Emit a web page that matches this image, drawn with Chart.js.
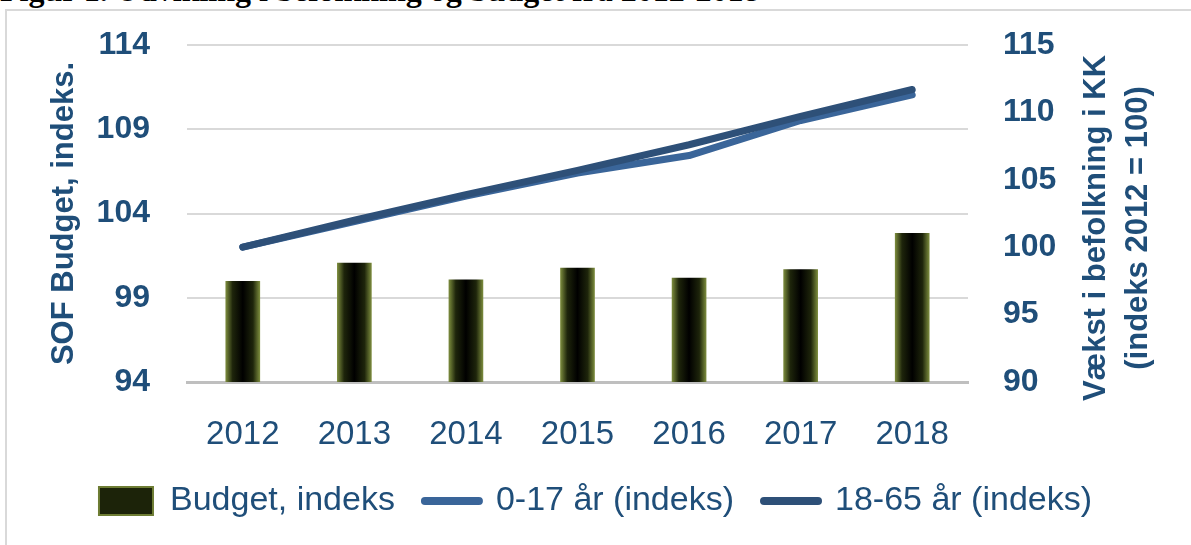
<!DOCTYPE html>
<html>
<head>
<meta charset="utf-8">
<script src="https://cdn.jsdelivr.net/npm/chart.js@4.4.1/dist/chart.umd.min.js"></script>
<style>
  html, body { margin: 0; padding: 0; background: #fff; overflow: hidden; }
  #wrap { position: relative; width: 1191px; height: 545px; overflow: hidden; }
  #title { position: absolute; left: 0; top: -26px; font: bold 32px "Liberation Serif", "Times New Roman", serif; line-height: 33px; white-space: nowrap; color: #000; }
  #frame { position: absolute; left: 5px; top: 9px; width: 1300px; height: 700px; border: 2px solid #d9d9d9; }
  canvas { position: absolute; left: 0; top: 0; }
</style>
</head>
<body>
<div id="wrap">
  <div id="title">Figur 1. Udvikling i befolkning og budget fra 2012-2018</div>
  <div id="frame"></div>
  <canvas id="chart" width="1191" height="545"></canvas>
</div>
<script>
// data
const years = ["2012", "2013", "2014", "2015", "2016", "2017", "2018"];
const budget = [99.98, 101.06, 100.07, 100.76, 100.17, 100.67, 102.82];
const age0to17 = [100.0, 101.9, 103.8, 105.5, 106.8, 109.4, 111.3];
const age18to65 = [100.0, 102.0, 103.9, 105.7, 107.6, 109.7, 111.7];
const leftTicks = [94, 99, 104, 109, 114];
const rightTicks = [90, 95, 100, 105, 110, 115];
const leftTitle = "SOF Budget, indeks.";
const rightTitle = ["Vækst i befolkning i KK", "(indeks 2012 = 100)"];

const textColor = "#1f4e79";
const fontFamily = '"Liberation Sans", Arial, sans-serif';

// dark bar with olive glow at the edges
function barFill(c) {
  const chart = c.chart;
  if (!chart.chartArea || c.dataIndex === undefined) return "#0b0d05";
  const cx = chart.scales.x.getPixelForValue(c.dataIndex);
  const g = chart.ctx.createLinearGradient(cx - 17, 0, cx + 17, 0);
  g.addColorStop(0, "#7a8a3c");
  g.addColorStop(0.2, "#1e250b");
  g.addColorStop(0.5, "#000000");
  g.addColorStop(0.8, "#1e250b");
  g.addColorStop(1, "#7a8a3c");
  return g;
}

// right axis title reads bottom-to-top like the left one
const rightTitlePlugin = {
  id: "rightTitle",
  afterDraw(chart) {
    const ctx = chart.ctx;
    ctx.save();
    ctx.translate(1117, 228);
    ctx.rotate(-Math.PI / 2);
    ctx.font = "bold 31px " + fontFamily;
    ctx.fillStyle = textColor;
    ctx.textAlign = "center";
    ctx.textBaseline = "middle";
    ctx.fillText(rightTitle[0], 0, -21);
    ctx.fillText(rightTitle[1], 0, 21);
    ctx.restore();
  }
};

const ctx = document.getElementById("chart").getContext("2d");
const chart = new Chart(ctx, {
  type: "bar",
  data: {
    labels: years,
    datasets: [
      {
        type: "bar",
        label: "Budget, indeks",
        data: budget,
        yAxisID: "y",
        backgroundColor: barFill,
        barThickness: 34,
        pointStyle: "rect",
        order: 3
      },
      {
        type: "line",
        label: "0-17 år (indeks)",
        data: age0to17,
        yAxisID: "y1",
        borderColor: "#3a6599",
        backgroundColor: "#3a6599",
        borderWidth: 7,
        borderCapStyle: "round",
        borderJoinStyle: "round",
        pointRadius: 0,
        pointStyle: "line",
        tension: 0,
        order: 2
      },
      {
        type: "line",
        label: "18-65 år (indeks)",
        data: age18to65,
        yAxisID: "y1",
        borderColor: "#2e5078",
        backgroundColor: "#2e5078",
        borderWidth: 7,
        borderCapStyle: "round",
        borderJoinStyle: "round",
        pointRadius: 0,
        pointStyle: "line",
        tension: 0,
        order: 1
      }
    ]
  },
  options: {
    responsive: false,
    animation: false,
    layout: { padding: { left: 0, right: 0, top: 45, bottom: 17 } },
    plugins: {
      tooltip: { enabled: false },
      legend: {
        position: "bottom",
        labels: {
          usePointStyle: true,
          pointStyleWidth: 54,
          boxHeight: 28,
          padding: 30,
          color: textColor,
          font: { family: fontFamily, size: 34 },
          sort: (a, b) => a.datasetIndex - b.datasetIndex,
          generateLabels(chart) {
            const items = Chart.defaults.plugins.legend.labels.generateLabels(chart);
            items.forEach((it) => {
              if (it.datasetIndex === 0) {
                it.fillStyle = "#1c2309";
                it.strokeStyle = "#6e7d34";
                it.lineWidth = 2;
              } else {
                it.lineCap = "round";
                it.lineWidth = 8;
              }
            });
            return items;
          }
        }
      }
    },
    scales: {
      x: {
        grid: { display: false, drawTicks: false },
        border: { display: true, color: "#bfbfbf", width: 3 },
        ticks: { color: textColor, padding: 33, font: { family: fontFamily, size: 33 } },
        afterFit(s) { s.height = 72; }
      },
      y: {
        position: "left",
        min: leftTicks[0],
        max: leftTicks[leftTicks.length - 1],
        afterBuildTicks(s) { s.ticks = leftTicks.map((v) => ({ value: v })); },
        grid: { color: "#d9d9d9", lineWidth: 2, drawTicks: false },
        border: { display: false },
        ticks: { color: textColor, padding: 37, font: { family: fontFamily, size: 32, weight: "bold" } },
        title: {
          display: true,
          text: leftTitle,
          color: textColor,
          padding: { top: 46, bottom: 0 },
          font: { family: fontFamily, size: 31, weight: "bold" }
        },
        afterFit(s) { s.width = 187; s.paddingTop = 0; s.paddingBottom = 0; }
      },
      y1: {
        position: "right",
        min: rightTicks[0],
        max: rightTicks[rightTicks.length - 1],
        afterBuildTicks(s) { s.ticks = rightTicks.map((v) => ({ value: v })); },
        grid: { display: false, drawTicks: false },
        border: { display: false },
        ticks: { color: textColor, padding: 35, font: { family: fontFamily, size: 32, weight: "bold" } },
        afterFit(s) { s.width = 223; s.paddingTop = 0; s.paddingBottom = 0; }
      }
    }
  },
  plugins: [rightTitlePlugin]
});
</script>
</body>
</html>
